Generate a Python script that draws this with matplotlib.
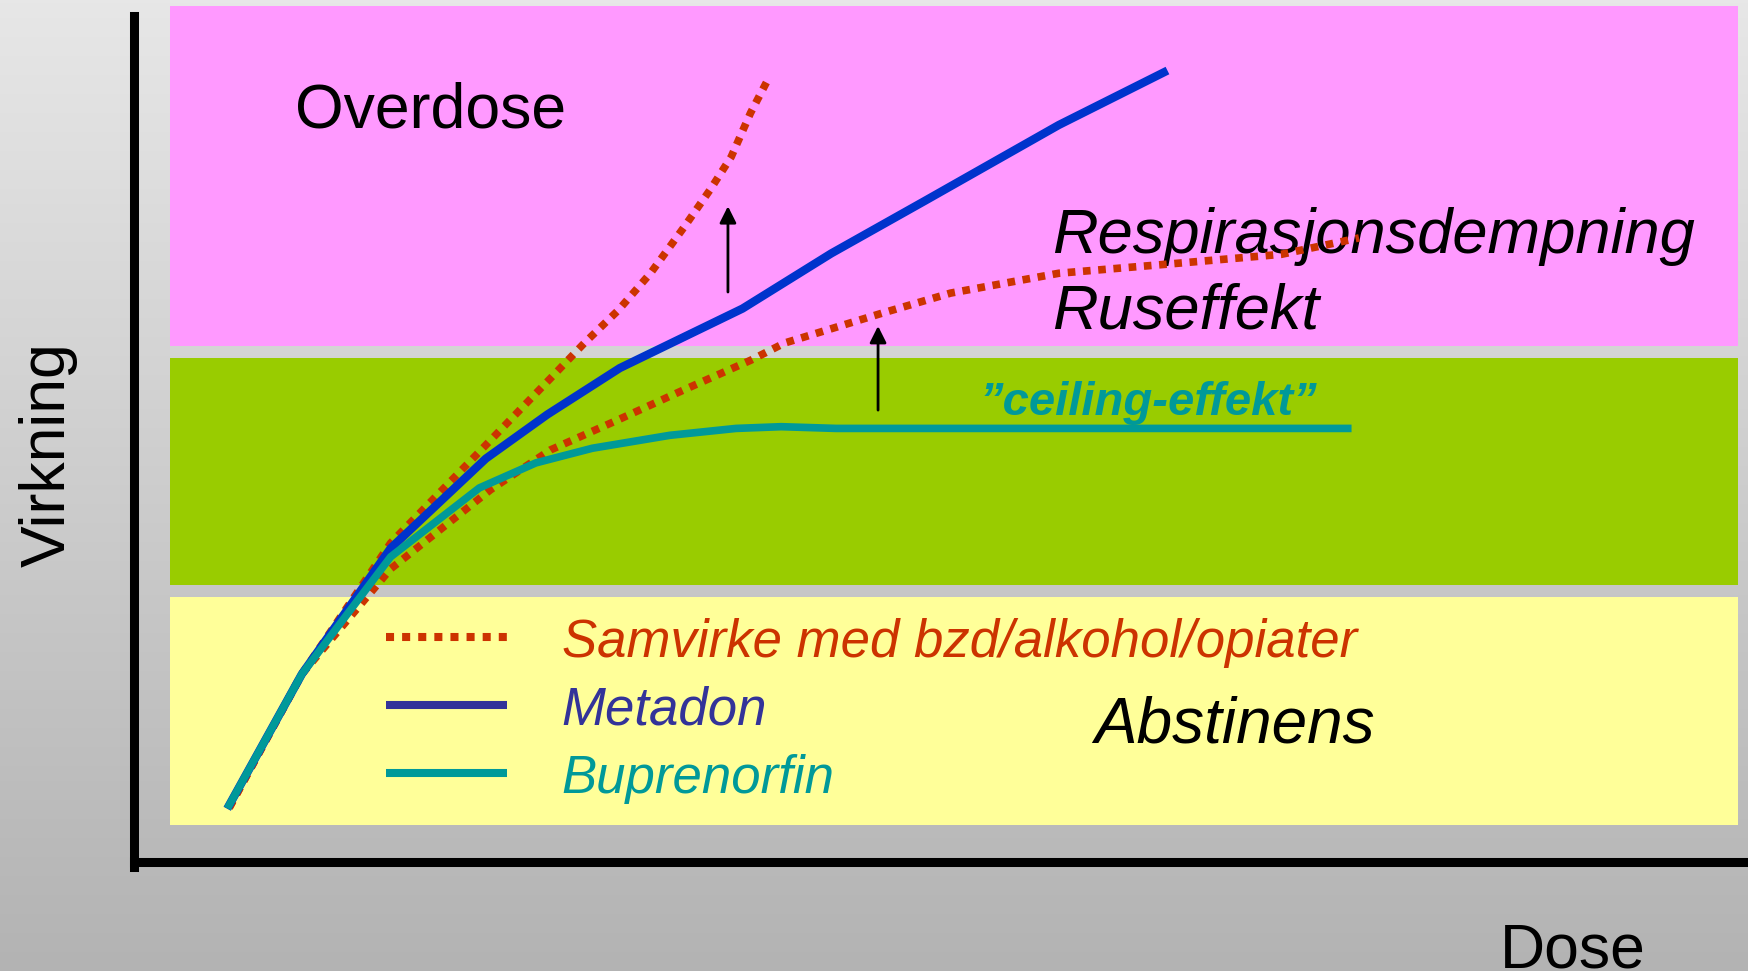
import numpy as np
import matplotlib.pyplot as plt
from matplotlib.colors import LinearSegmentedColormap
from matplotlib.patches import Rectangle

plt.rcParams['font.family'] = ['Liberation Sans', 'DejaVu Sans']

# ---------------------------
# Data: dose vs effect (arbitrary units 0-100)
# ---------------------------
samvirke_hi_dose = [5.9, 10.4, 15.9, 21.4, 25.8, 27.9, 30.0, 32.0, 34.1, 35.7, 37.0, 38.2, 39.2]
samvirke_hi_eff = [6.3, 21.8, 37.0, 47.6, 56.1, 60.2, 64.0, 68.3, 73.7, 78.0, 81.8, 86.9, 90.5]

samvirke_lo_dose = [5.9, 10.4, 15.9, 22.1, 25.8, 30.0, 34.1, 38.2, 40.3, 46.4, 50.6, 57.3, 64.3, 71.1, 75.9]
samvirke_lo_eff = [6.3, 21.8, 34.0, 43.2, 47.8, 51.3, 54.8, 58.2, 60.2, 63.7, 66.0, 68.3, 69.4, 70.5, 72.4]

metadon_dose = [5.9, 10.4, 15.9, 21.8, 25.6, 30.1, 37.7, 43.2, 49.0, 57.3, 63.8]
metadon_eff = [6.6, 21.8, 36.4, 46.8, 51.9, 57.3, 64.2, 70.6, 76.7, 85.5, 91.6]

bupre_dose = [5.9, 10.4, 15.9, 21.4, 24.9, 28.4, 33.2, 37.3, 40.1, 43.5, 75.2]
bupre_eff = [6.6, 21.8, 35.4, 43.4, 46.3, 48.0, 49.5, 50.3, 50.5, 50.3, 50.3]

# zones: (name, effect low, effect high, colour)
zones = [("Overdose", 59.9, 99.3, "#FF99FF"),
         ("Ruseffekt", 32.1, 58.5, "#99CC00"),
         ("Abstinens", 4.3, 30.7, "#FFFF99")]
zone_dose = (2.2, 99.4)

legend_labels = ["Samvirke med bzd/alkohol/opiater", "Metadon", "Buprenorfin"]

# ---------------------------
# Figure + gradient background
# ---------------------------
fig = plt.figure(figsize=(17.48, 9.71), dpi=100)
bg = fig.add_axes([0, 0, 1, 1])
grad_cmap = LinearSegmentedColormap.from_list("bg", ["#E7E7E7", "#B3B3B3"])
bg.imshow(np.linspace(0, 1, 256).reshape(-1, 1), aspect="auto", cmap=grad_cmap,
          extent=[0, 1, 0, 1], origin="upper")
bg.set_axis_off()

ax = fig.add_axes([134 / 1748, 109 / 971, 1614 / 1748, 862 / 971])
ax.set_facecolor("none")
ax.set_xlim(0, 100)
ax.set_ylim(0, 100)
ax.set_xticks([])
ax.set_yticks([])
for s in ["top", "right"]:
    ax.spines[s].set_visible(False)
ax.spines["left"].set_linewidth(6.5)
ax.spines["bottom"].set_linewidth(6.5)
ax.spines["left"].set_bounds(-0.6, 98.1)

for name, lo, hi, col in zones:
    ax.add_patch(Rectangle((zone_dose[0], lo), zone_dose[1] - zone_dose[0], hi - lo,
                           facecolor=col, edgecolor="none", zorder=1))

# ---------------------------
# Curves
# ---------------------------
red = "#CC3300"
ax.plot(samvirke_lo_dose, samvirke_lo_eff, color=red, lw=5.5, ls=(0, (1, 1)),
        dash_capstyle="butt", zorder=4)
ax.plot(samvirke_hi_dose, samvirke_hi_eff, color=red, lw=5.5, ls=(0, (1, 1)),
        dash_capstyle="butt", zorder=4)
ax.plot(metadon_dose, metadon_eff, color="#0033CC", lw=6, zorder=5)
ax.plot(bupre_dose, bupre_eff, color="#009999", lw=5.5, zorder=6)

# arrows
arrow_kw = dict(arrowstyle="-|>", color="black", lw=2, mutation_scale=25)
ax.annotate("", xy=(36.8, 76.4), xytext=(36.8, 65.8), arrowprops=arrow_kw, zorder=7)
ax.annotate("", xy=(46.1, 62.5), xytext=(46.1, 52.1), arrowprops=arrow_kw, zorder=7)

# ---------------------------
# Texts
# ---------------------------
ax.text(10.0, 85.2, "Overdose", fontsize=45, va="baseline", ha="left", zorder=3)
ax.text(56.9, 70.6, "Respirasjonsdempning", fontsize=45.5, style="italic",
        va="baseline", ha="left", zorder=3)
ax.text(56.9, 61.9, "Ruseffekt", fontsize=45.5, style="italic",
        va="baseline", ha="left", zorder=3)
ax.text(52.4, 51.9, "\u201dceiling-effekt\u201d", fontsize=34, style="italic",
        weight="bold", color="#009999", va="baseline", ha="left", zorder=3)
ax.text(59.5, 13.9, "Abstinens", fontsize=46, style="italic",
        va="baseline", ha="left", zorder=3)

# legend drawn by hand
leg_y = [26.1, 18.2, 10.3]
leg_txt_y = [23.8, 15.9, 8.0]
leg_col = [red, "#333399", "#009999"]
leg_ls = [(0, (1, 1)), "-", "-"]
for lab, y, ty, c, ls in zip(legend_labels, leg_y, leg_txt_y, leg_col, leg_ls):
    ax.plot([15.6, 23.1], [y, y], color=c, lw=5.8, ls=ls, dash_capstyle="butt",
            solid_capstyle="butt", zorder=3)
    ax.text(26.5, ty, lab, fontsize=38, style="italic", color=c,
            va="baseline", ha="left", zorder=3)

fig.text(1500 / 1748, 4 / 971, "Dose", fontsize=45, va="baseline", ha="left")
fig.text(48 / 1748, 1 - 455 / 971, "Virkning", fontsize=45, rotation=90,
         va="center", ha="center")

fig.savefig("out.png", dpi=100)
